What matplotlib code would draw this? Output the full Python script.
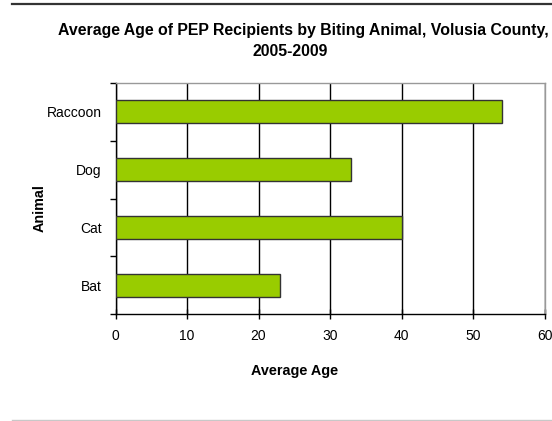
import matplotlib.pyplot as plt
from matplotlib.lines import Line2D

plt.rcParams['font.family'] = ['Liberation Sans', 'DejaVu Sans']

animals = ['Bat', 'Cat', 'Dog', 'Raccoon']
avg_age = [23, 40, 33, 54]
x_ticks = [0, 10, 20, 30, 40, 50, 60]

W, H = 552, 421
fig = plt.figure(figsize=(W / 100, H / 100), dpi=100)

# plot area in pixel coordinates
left, right, top, bottom = 115.5, 544.5, 83, 314
ax = fig.add_axes([left / W, 1 - bottom / H, (right - left) / W, (bottom - top) / H])

ax.barh(range(len(animals)), avg_age, height=0.4, color='#99cc00',
        edgecolor='#333333', linewidth=1, zorder=3)

ax.set_xlim(0, 60)
ax.set_ylim(-0.5, len(animals) - 0.5)
ax.set_xticks(x_ticks)
ax.set_xticklabels([str(t) for t in x_ticks], fontsize=10)
ax.set_yticks(range(len(animals)))
ax.set_yticklabels(animals, fontsize=10)
ax.tick_params(axis='y', length=0, pad=10)
ax.set_yticks([i - 0.5 for i in range(len(animals) + 1)], minor=True)
ax.tick_params(axis='y', which='minor', length=4, width=1, direction='out')
ax.tick_params(axis='x', length=7, width=1, direction='inout', pad=7)

ax.grid(axis='x', color='black', linewidth=1, zorder=1)
ax.set_axisbelow(True)
ax.spines['left'].set_color('black')
ax.spines['bottom'].set_color('black')
ax.spines['top'].set_color('#999999')
ax.spines['right'].set_color('#999999')
for s in ax.spines.values():
    s.set_linewidth(1)

fig.text(303 / W, 1 - 30 / H, 'Average Age of PEP Recipients by Biting Animal, Volusia County,',
         ha='center', va='center', fontsize=11.4, fontweight='bold')
fig.text(290 / W, 1 - 52 / H, '2005-2009',
         ha='center', va='center', fontsize=11.4, fontweight='bold')
fig.text(295 / W, 1 - 371 / H, 'Average Age', ha='center', va='center',
         fontsize=10.4, fontweight='bold')
fig.text(40 / W, 1 - 208.5 / H, 'Animal', ha='center', va='center',
         fontsize=10.4, fontweight='bold', rotation=90)

# frame lines above and below the chart
fig.add_artist(Line2D([12 / W, 1], [1 - 4 / H, 1 - 4 / H], color='#333333', linewidth=1.6))
fig.add_artist(Line2D([12 / W, 1], [1 - 420 / H, 1 - 420 / H], color='#c8c8c8', linewidth=1))

fig.savefig('out.png', dpi=100)
